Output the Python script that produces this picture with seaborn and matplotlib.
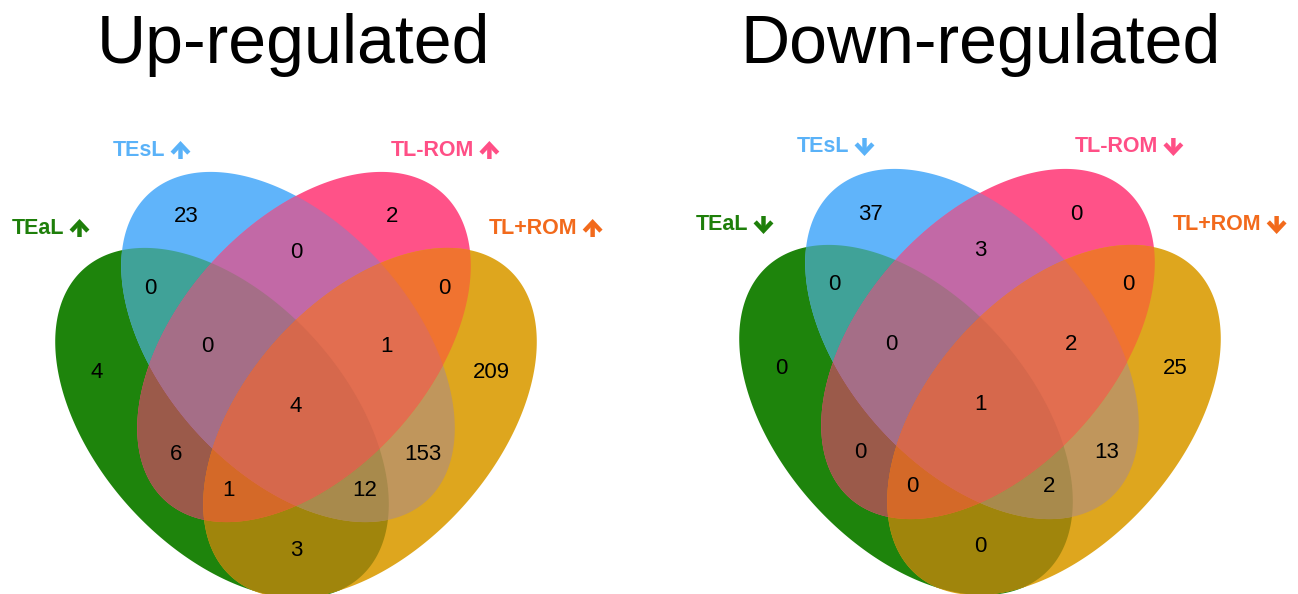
import numpy as np
import matplotlib
matplotlib.use("Agg")
import matplotlib.pyplot as plt
from matplotlib.patches import Polygon
from itertools import combinations
import seaborn as sns

# ---- data -------------------------------------------------------------
set_keys = ["G", "B", "P", "Y"]
set_labels = ["TEaL", "TEsL", "TL-ROM", "TL+ROM"]
regions = ["G", "B", "P", "Y", "GB", "GP", "GY", "BP", "BY", "PY",
           "GBP", "GBY", "GPY", "BPY", "GBPY"]
up_counts = [4, 23, 2, 209, 0, 6, 3, 0, 153, 0, 0, 12, 1, 1, 4]
down_counts = [0, 37, 0, 25, 0, 0, 0, 3, 13, 0, 0, 2, 0, 2, 1]
panel_titles = ["Up-regulated", "Down-regulated"]
panel_direction = [-1, 1]   # -1: arrow pointing up, +1: arrow pointing down

# ---- style ------------------------------------------------------------
sns.set_theme(style="white")
plt.rcParams["font.family"] = ["Liberation Sans", "DejaVu Sans"]

label_colors = sns.color_palette(["#1E7F0A", "#5AB2F8", "#FF4F86", "#F26A1C"])
region_colors = {
    "G": "#1E840C", "B": "#60B4FA", "P": "#FF5288", "Y": "#DEA61E",
    "GB": "#40A298", "GP": "#9B5A4A", "GY": "#A0850C", "BP": "#C269A6",
    "BY": "#C0965C", "PY": "#F07330", "GBP": "#A56E87", "GBY": "#A88A4C",
    "GPY": "#D46928", "BPY": "#E26E50", "GBPY": "#D6684C",
}

# four-ellipse layout, in pixels relative to the panel centre
ell_a, ell_b = 207.0, 125.0
ell_angle = {"G": 48.0, "B": 48.0, "P": -48.0, "Y": -48.0}
ell_offset = {"G": (-74, 16), "B": (-8, -60), "P": (8, -60), "Y": (74, 16)}
count_offset = {
    "B": (-110, -190), "P": (96, -190), "BP": (0, -154),
    "GB": (-146, -119), "PY": (148, -119), "G": (-199, -35), "Y": (195, -35),
    "GBP": (-89, -60), "BPY": (91, -60), "GBPY": (0, 0),
    "GP": (-120, 48), "BY": (127, 48), "GPY": (-68, 83), "GBY": (69, 83),
    "GY": (0, 143),
}
name_offset = [(-284, -179), (-183, -257), (95, -257), (193, -179)]
panel_centres = [(296, 407), (980, 404)]
title_pos = [(293, 63), (981, 63)]


def ellipse_polygon(cx, cy, a, b, angle, n=400):
    t = np.linspace(0, 2 * np.pi, n, endpoint=False)
    th = np.deg2rad(angle)
    x = cx + a * np.cos(t) * np.cos(th) - b * np.sin(t) * np.sin(th)
    y = cy + a * np.cos(t) * np.sin(th) + b * np.sin(t) * np.cos(th)
    return np.column_stack([x, y])


def clip_convex(subject, clipper):
    """Sutherland-Hodgman clipping of a polygon by a convex CCW polygon."""
    out = list(map(tuple, subject))
    n = len(clipper)
    for i in range(n):
        if not out:
            break
        ax_, ay_ = clipper[i]
        bx_, by_ = clipper[(i + 1) % n]
        ex, ey = bx_ - ax_, by_ - ay_

        def side(p):
            return ex * (p[1] - ay_) - ey * (p[0] - ax_)

        def cross_pt(p, q):
            sp, sq = side(p), side(q)
            t = sp / (sp - sq)
            return (p[0] + t * (q[0] - p[0]), p[1] + t * (q[1] - p[1]))

        inp, out = out, []
        s = inp[-1]
        for e in inp:
            if side(e) >= 0:
                if side(s) < 0:
                    out.append(cross_pt(s, e))
                out.append(e)
            elif side(s) >= 0:
                out.append(cross_pt(s, e))
            s = e
    return np.array(out)


fig = plt.figure(figsize=(12.98, 5.94), dpi=100)
ax = fig.add_axes([0, 0, 1, 1])
ax.set_xlim(0, 1298)
ax.set_ylim(594, 0)
ax.axis("off")

for p, (pcx, pcy) in enumerate(panel_centres):
    shapes = {
        k: ellipse_polygon(pcx + ell_offset[k][0], pcy + ell_offset[k][1],
                           ell_a, ell_b, ell_angle[k])
        for k in set_keys
    }
    # fill every region: single sets first, then ever deeper intersections
    for size in range(1, 5):
        for combo in combinations(set_keys, size):
            poly = shapes[combo[0]]
            for k in combo[1:]:
                poly = clip_convex(poly, shapes[k])
            if len(poly) < 3:
                continue
            ax.add_patch(Polygon(poly, closed=True, facecolor=region_colors["".join(combo)],
                                 edgecolor="none", lw=0, zorder=1 + size))

    counts = up_counts if p == 0 else down_counts
    for reg, val in zip(regions, counts):
        dx, dy = count_offset[reg]
        ax.text(pcx + dx, pcy + dy, str(val), ha="center", va="center",
                fontsize=16, color="black", zorder=10)

    fig.canvas.draw()
    renderer = fig.canvas.get_renderer()
    d = panel_direction[p]
    for i, name in enumerate(set_labels):
        dx, dy = name_offset[i]
        y = pcy + dy
        t = ax.text(pcx + dx, y, name, ha="left", va="center",
                    fontsize=15.5, fontweight="bold", color=label_colors[i], zorder=10)
        bb = t.get_window_extent(renderer=renderer)
        xa = bb.x1 + 15
        ax.annotate("", xy=(xa, y + d * 9), xytext=(xa, y - d * 9),
                    arrowprops=dict(arrowstyle="->,head_length=0.32,head_width=0.3",
                                    lw=3.2, color=label_colors[i], shrinkA=0, shrinkB=0,
                                    mutation_scale=20, joinstyle="miter", capstyle="butt"),
                    zorder=10)

    tx, ty = title_pos[p]
    ax.text(tx, ty, panel_titles[p], ha="center", va="baseline",
            fontsize=49, color="black", zorder=10)

fig.savefig("out.png", dpi=100)
